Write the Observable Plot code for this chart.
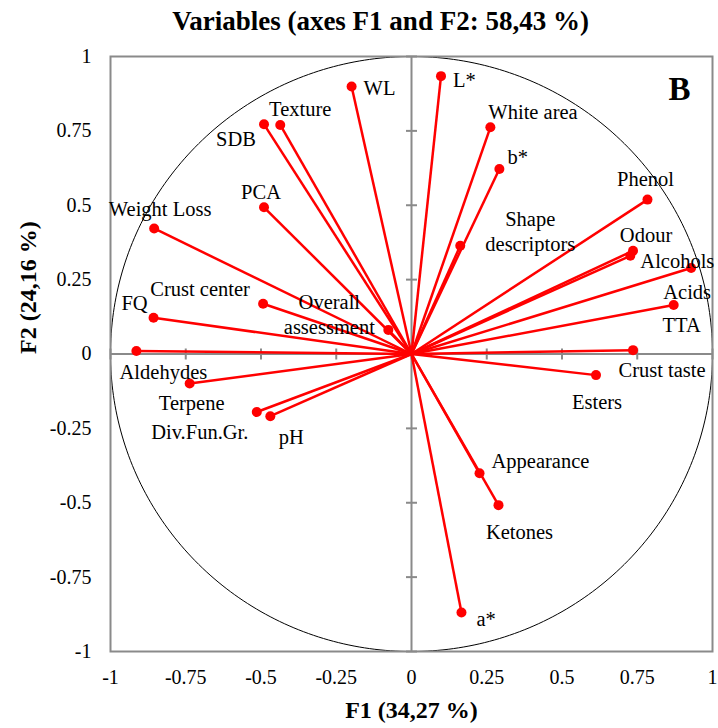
<!DOCTYPE html>
<html>
<head>
<meta charset="utf-8">
<script src="https://cdn.jsdelivr.net/npm/d3@7"></script>
<script src="https://cdn.jsdelivr.net/npm/@observablehq/plot@0.6"></script>
<style>
  html, body { margin: 0; padding: 0; background: #fff; }
</style>
</head>
<body>
<div id="chart"></div>
<script>
// ---- data ----
const names = ["WL","L*","White area","b*","Shape\ndescriptors","Phenol","Odour","Alcohols","Acids","TTA",
  "Crust taste","Esters","Appearance","Ketones","a*","Overall\nassessment","Texture","SDB","PCA",
  "Weight Loss","Crust center","FQ","Aldehydes","Terpene","Div.Fun.Gr.","pH"];
const f1 = [-0.199, 0.098, 0.262, 0.292, 0.162, 0.784, 0.736, 0.727, 0.929, 0.871,
  0.736, 0.613, 0.226, 0.289, 0.166, -0.077, -0.436, -0.490, -0.490,
  -0.855, -0.493, -0.857, -0.914, -0.737, -0.514, -0.469];
const f2 = [0.899, 0.934, 0.762, 0.622, 0.364, 0.519, 0.347, 0.330, 0.289, 0.165,
  0.013, -0.071, -0.401, -0.508, -0.869, 0.081, 0.770, 0.772, 0.493,
  0.422, 0.169, 0.122, 0.010, -0.099, -0.195, -0.209];
const tickValues = [-1, -0.75, -0.5, -0.25, 0, 0.25, 0.5, 0.75, 1];

const titleText = "Variables (axes F1 and F2: 58,43 %)";
const xTitle = "F1 (34,27 %)";
const yTitle = "F2 (24,16 %)";
const panelLetter = "B";

// ---- label layout (pixel offsets from each point) ----
const labelLayout = {
  "WL": [12, 0, "start"],
  "L*": [12, 3, "start"],
  "White area": [-2, -16, "start"],
  "b*": [8, -13, "start"],
  "Shape\ndescriptors": [70, -15, "middle"],
  "Phenol": [-2, -22, "middle"],
  "Odour": [13, -17, "middle"],
  "Alcohols": [10, 4, "start"],
  "Acids": [-4, 23, "middle"],
  "TTA": [8, 19, "middle"],
  "Crust taste": [29, 19, "middle"],
  "Esters": [1, 26, "middle"],
  "Appearance": [12, -13, "start"],
  "Ketones": [21, 26, "middle"],
  "a*": [15, 5, "start"],
  "Overall\nassessment": [-59, -16, "middle"],
  "Texture": [20, -17, "middle"],
  "SDB": [-28, 14, "middle"],
  "PCA": [-3, -16, "middle"],
  "Weight Loss": [6, -20, "middle"],
  "Crust center": [-63, -16, "middle"],
  "FQ": [-19, -16, "middle"],
  "Aldehydes": [27, 20, "middle"],
  "Terpene": [2, 19, "middle"],
  "Div.Fun.Gr.": [-57, 19, "middle"],
  "pH": [21, 20, "middle"]
};

const vars = names.map((n, i) => ({name: n, x: f1[i], y: f2[i]}));

// unit circle reference
const circle = d3.range(0, 361).map(a => ({x: Math.cos(a * Math.PI / 180), y: Math.sin(a * Math.PI / 180)}));

const hdash = {draw(ctx) { ctx.moveTo(-5.5, 0); ctx.lineTo(5.5, 0); }};
const vdash = {draw(ctx) { ctx.moveTo(0, -5.5); ctx.lineTo(0, 5.5); }};

const gray = "#8a8a8a";
const red = "#ff0000";
const font = "'Liberation Serif', 'Times New Roman', serif";

const labelMarks = vars.map(d => {
  const [dx, dy, anchor] = labelLayout[d.name];
  return Plot.text([d], {x: "x", y: "y", text: "name", dx, dy, textAnchor: anchor,
    fontSize: 20.5, lineHeight: 1.22, fill: "black"});
});

const chart = Plot.plot({
  width: 718,
  height: 728,
  marginLeft: 110,
  marginRight: 6,
  marginTop: 56,
  marginBottom: 77,
  style: {fontFamily: font, background: "#fff", color: "black", overflow: "visible"},
  x: {domain: [-1, 1]},
  y: {domain: [-1, 1]},
  marks: [
    Plot.line(circle, {x: "x", y: "y", stroke: "black", strokeWidth: 1, curve: "linear"}),
    Plot.ruleX([0], {stroke: gray, strokeWidth: 2}),
    Plot.ruleY([0], {stroke: gray, strokeWidth: 2}),
    Plot.dot(tickValues, {x: 0, y: d => d, symbol: hdash, fill: "none", stroke: gray, strokeWidth: 2}),
    Plot.dot(tickValues, {x: d => d, y: 0, symbol: vdash, fill: "none", stroke: gray, strokeWidth: 2}),
    Plot.frame({stroke: gray, strokeWidth: 2}),
    Plot.axisX({ticks: tickValues, tickSize: 0, tickPadding: 18, tickFormat: d => String(d), fontSize: 20, label: null}),
    Plot.axisY({ticks: tickValues, tickSize: 0, tickPadding: 19, tickFormat: d => String(d), fontSize: 20, label: null}),
    Plot.link(vars, {x1: 0, y1: 0, x2: "x", y2: "y", stroke: red, strokeWidth: 2.5}),
    Plot.dot(vars, {x: "x", y: "y", r: 5, fill: red, stroke: "none"}),
    ...labelMarks,
    Plot.text([panelLetter], {frameAnchor: "top-right", lineAnchor: "middle", dx: -33, dy: 33, fontSize: 33, fontWeight: "bold", textAnchor: "middle"}),
    Plot.text([titleText], {frameAnchor: "top", lineAnchor: "middle", dx: -31, dy: -35, fontSize: 27, fontWeight: "bold"}),
    Plot.text([xTitle], {frameAnchor: "bottom", lineAnchor: "middle", dy: 59, fontSize: 24, fontWeight: "bold"}),
    Plot.text([yTitle], {frameAnchor: "left", lineAnchor: "middle", dx: -82, rotate: -90, fontSize: 24, fontWeight: "bold"})
  ]
});

document.getElementById("chart").appendChild(chart);
</script>
</body>
</html>
